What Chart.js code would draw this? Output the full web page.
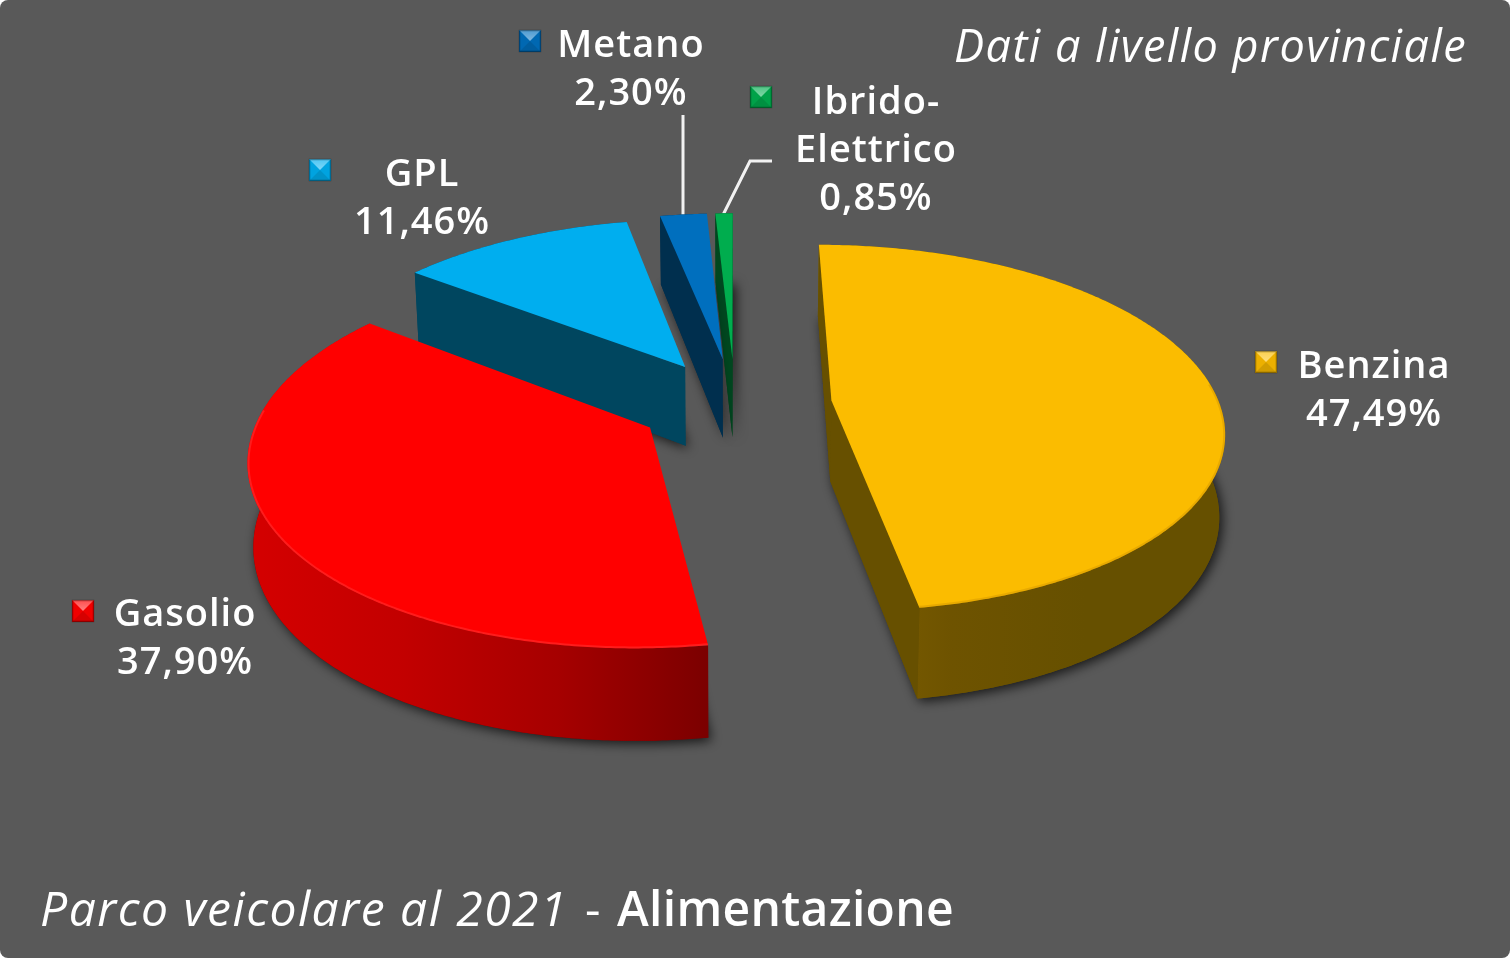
<!DOCTYPE html>
<html>
<head>
<meta charset="utf-8">
<style>
    html, body { margin: 0; padding: 0; background: #fff; }
    canvas { display: block; border-radius: 8px; }
</style>
<script src="https://cdn.jsdelivr.net/npm/chart.js@4"></script>
</head>
<body>
<canvas id="myChart" width="1510" height="958"></canvas>
<script>
const categories = ['Benzina', 'Gasolio', 'GPL', 'Metano', 'Ibrido-Elettrico'];
const values = [47.49, 37.90, 11.46, 2.30, 0.85];
const explode = [0.25, 0.25, 0.25, 0.26, 0.26];

const sliceColors = ['#fbbc00', '#ff0000', '#00aeef', '#006fbe', '#00ad4e'];
const cutColors = ['#675000', '#7c0000', '#00465f', '#002f4e', '#00471f'];
const rimColors = [
    ['#816200', '#6e5300', '#665000', '#665000'],
    ['#d40000', '#c20000', '#a60000', '#7b0000'],
    ['#00465f', '#00465f'],
    ['#002f4e', '#002f4e'],
    ['#00471f', '#00471f']
];
const edgeColors = ['rgba(190,130,0,0.3)', 'rgba(255,70,70,0.4)', null, null, null];

// label lines, centre x, first baseline, key centre
const labelLines = [['Benzina'], ['Gasolio'], ['GPL'], ['Metano'], ['Ibrido-', 'Elettrico']];
const labelX = [1374, 185, 422, 631, 876];
const labelY = [378, 626, 186, 57, 114];
const keyX = [1266, 83, 320, 530, 761];
const keyY = [362, 611, 170, 41, 97];

// projection of the pie plane on the screen
const VX = 735, HY = 404, A = 388, B = 180, P = 0.15, DEPTH = 81, DEPTH_GROW = 0.125, SHRINK = 0.012;

function project(u, v, h) {
    const w = 1 / (1 - P * v);
    return {
        x: VX + A * u * w * (1 - SHRINK * h),
        y: HY + B * v * w + DEPTH * h * (1 + DEPTH_GROW * v)
    };
}

function polygon(ctx, pts) {
    ctx.beginPath();
    pts.forEach((p, i) => i ? ctx.lineTo(p.x, p.y) : ctx.moveTo(p.x, p.y));
    ctx.closePath();
}

function rimGradient(ctx, pts, colors) {
    const xs = pts.map(p => p.x);
    const g = ctx.createLinearGradient(Math.min(...xs), 0, Math.max(...xs), 0);
    colors.forEach((c, i) => g.addColorStop(i / (colors.length - 1), c));
    return g;
}

function drawSlice(ctx, arc, i) {
    const mid = (arc.startAngle + arc.endAngle) / 2;
    const ou = Math.cos(mid) * explode[i];
    const ov = Math.sin(mid) * explode[i];

    const top = [], bottom = [], front = [];
    const n = Math.max(4, Math.ceil((arc.endAngle - arc.startAngle) / 0.01));
    for (let k = 0; k <= n; k++) {
        const a = arc.startAngle + (arc.endAngle - arc.startAngle) * k / n;
        const p = project(ou + Math.cos(a), ov + Math.sin(a), 0);
        top.push(p);
        bottom.push(project(ou + Math.cos(a), ov + Math.sin(a), 1));
        if (Math.sin(a) > -0.1) front.push(p);
    }
    const apex = project(ou, ov, 0);
    const apexLow = project(ou, ov, 1);

    // soft shadow of the base
    ctx.save();
    ctx.shadowColor = 'rgba(0,0,0,0.75)';
    ctx.shadowBlur = 12;
    ctx.shadowOffsetX = 3;
    ctx.shadowOffsetY = 3;
    ctx.fillStyle = cutColors[i];
    polygon(ctx, [apexLow, ...bottom]);
    ctx.fill();
    ctx.restore();

    // outer wall
    ctx.fillStyle = rimGradient(ctx, bottom, rimColors[i]);
    polygon(ctx, [...top, ...bottom.slice().reverse()]);
    ctx.fill();

    // cut walls, only the ones facing the viewer
    ctx.fillStyle = cutColors[i];
    const first = top[0], last = top[top.length - 1];
    if (first.x < apex.x) {
        polygon(ctx, [apex, first, bottom[0], apexLow]);
        ctx.fill();
    }
    if (last.x > apex.x) {
        polygon(ctx, [apex, last, bottom[bottom.length - 1], apexLow]);
        ctx.fill();
    }

    // top face
    ctx.fillStyle = arc.options.backgroundColor;
    polygon(ctx, [apex, ...top]);
    ctx.fill();

    // bevel along the front of the rim
    if (edgeColors[i] && front.length) {
        ctx.save();
        polygon(ctx, [apex, ...top]);
        ctx.clip();
        ctx.strokeStyle = edgeColors[i];
        ctx.lineWidth = 4;
        ctx.beginPath();
        front.forEach((p, k) => k ? ctx.lineTo(p.x, p.y) : ctx.moveTo(p.x, p.y));
        ctx.stroke();
        ctx.restore();
    }
}

function drawKey(ctx, cx, cy, color) {
    const s = 11;
    const x0 = cx - s, x1 = cx + s, y0 = cy - s, y1 = cy + s;
    ctx.fillStyle = color;
    ctx.fillRect(x0, y0, 22, 22);
    const tri = (a, b, style) => {
        ctx.fillStyle = style;
        polygon(ctx, [a, b, { x: cx, y: cy }]);
        ctx.fill();
    };
    const shine = ctx.createLinearGradient(0, y0, 0, cy);
    shine.addColorStop(0, 'rgba(255,255,255,0.3)');
    shine.addColorStop(1, 'rgba(255,255,255,0.5)');
    tri({ x: x0, y: y0 }, { x: x1, y: y0 }, shine);
    tri({ x: x0, y: y1 }, { x: x1, y: y1 }, 'rgba(0,0,0,0.16)');
    tri({ x: x0, y: y0 }, { x: x0, y: y1 }, 'rgba(0,0,0,0.06)');
    tri({ x: x1, y: y0 }, { x: x1, y: y1 }, 'rgba(0,0,0,0.06)');
    ctx.strokeStyle = 'rgba(0,0,0,0.35)';
    ctx.lineWidth = 1.5;
    ctx.strokeRect(x0 + 0.5, y0 + 0.5, 21, 21);
}

function drawLeader(ctx, pts) {
    ctx.strokeStyle = '#f2f2f2';
    ctx.lineWidth = 3;
    ctx.beginPath();
    pts.forEach((p, i) => i ? ctx.lineTo(p[0], p[1]) : ctx.moveTo(p[0], p[1]));
    ctx.stroke();
}

const LABEL_FONT = '600 38px "Open Sans"';
const TOP_FONT = 'italic 400 45px "Open Sans"';
const TITLE_FONT = 'italic 400 48px "Open Sans"';
const BOLD_FONT = '600 48px "Open Sans"';
const DASH_FONT = '400 48px "Open Sans"';

function drawText(ctx) {
    ctx.fillStyle = '#ffffff';
    ctx.textBaseline = 'alphabetic';
    ctx.textAlign = 'center';
    ctx.font = LABEL_FONT;
    ctx.letterSpacing = '1px';
    values.forEach((v, i) => {
        const lines = [...labelLines[i], v.toFixed(2).replace('.', ',') + '%'];
        lines.forEach((t, k) => ctx.fillText(t, labelX[i], labelY[i] + k * 48));
    });

    ctx.textAlign = 'left';
    ctx.font = TOP_FONT;
    ctx.letterSpacing = '1.5px';
    ctx.fillText('Dati a livello provinciale', 954, 62);
    ctx.font = TITLE_FONT;
    ctx.letterSpacing = '1.5px';
    ctx.fillText('Parco veicolare al 2021', 40, 926);
    ctx.font = DASH_FONT;
    ctx.letterSpacing = '0px';
    ctx.fillText('-', 585, 926);
    ctx.font = BOLD_FONT;
    ctx.letterSpacing = '0.3px';
    ctx.fillText('Alimentazione', 617, 926);
}

const pie3d = {
    id: 'pie3d',
    beforeDraw(chart) {
        const ctx = chart.ctx;
        ctx.fillStyle = '#595959';
        ctx.fillRect(0, 0, chart.width, chart.height);
    },
    beforeDatasetsDraw(chart) {
        const ctx = chart.ctx;
        const arcs = chart.getDatasetMeta(0).data;
        const order = arcs.map((a, i) => i).sort((p, q) =>
            Math.sin((arcs[p].startAngle + arcs[p].endAngle) / 2) -
            Math.sin((arcs[q].startAngle + arcs[q].endAngle) / 2));
        drawLeader(ctx, [[683, 115], [683, 218]]);
        drawLeader(ctx, [[772, 161], [750, 161], [723, 215]]);
        order.forEach(i => drawSlice(ctx, arcs[i], i));
        arcs.forEach((a, i) => drawKey(ctx, keyX[i], keyY[i], sliceColors[i]));
        drawText(ctx);
        return false; // the slices are already painted in perspective
    }
};

new Chart(document.getElementById('myChart'), {
    type: 'pie',
    plugins: [pie3d],
    data: {
        labels: categories,
        datasets: [{
            data: values,
            backgroundColor: sliceColors,
            borderWidth: 0
        }]
    },
    options: {
        responsive: false,
        animation: false,
        devicePixelRatio: 1,
        rotation: 0,
        plugins: {
            legend: { display: false },
            tooltip: { enabled: false }
        }
    }
});
</script>
</body>
</html>
